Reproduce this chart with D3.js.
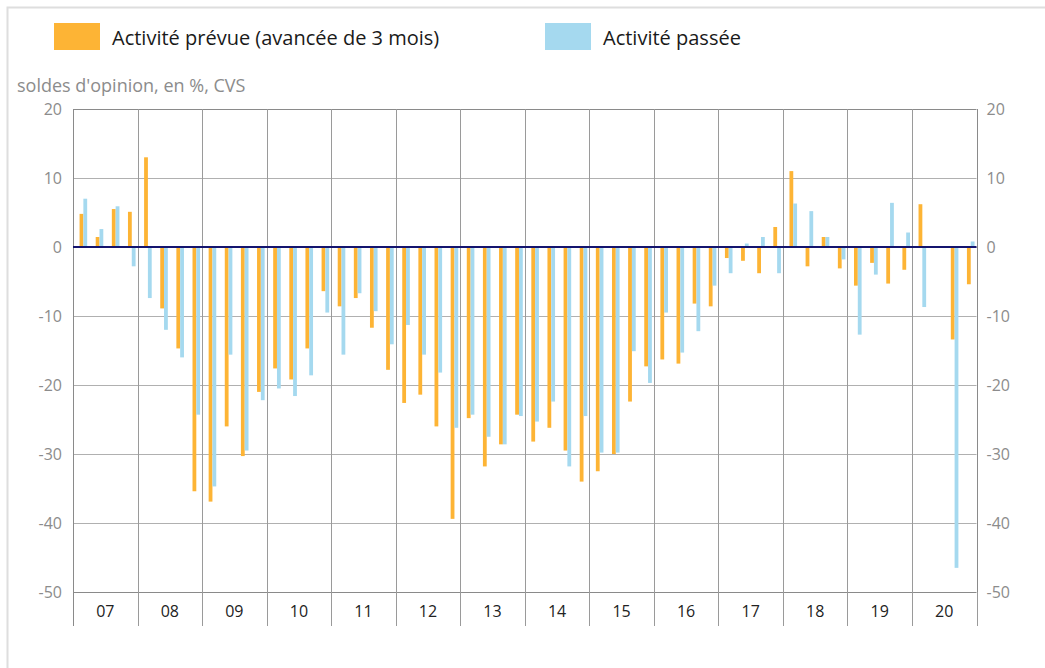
<!DOCTYPE html>
<html>
<head>
<meta charset="utf-8">
<script src="https://cdn.jsdelivr.net/npm/d3@7"></script>
<style>
html,body{margin:0;padding:0;background:#fff;}
svg{display:block;font-family:"Open Sans","Noto Sans",sans-serif;}
</style>
</head>
<body>
<svg id="chart" width="1045" height="668"></svg>
<script>
const years = ["07","08","09","10","11","12","13","14","15","16","17","18","19","20"];
const quarters = [1,2,3,4];
const yTicks = [20,10,0,-10,-20,-30,-40,-50];
const seriesNames = ["Activité prévue (avancée de 3 mois)", "Activité passée"];
const seriesColors = ["#fdb435", "#a5d9ef"];
// Activité prévue (avancée de 3 mois), quarterly, 2007 Q1 .. 2020 Q4
const prevue = [
  4.8, 1.45, 5.5, 5.1,
  13.0, -8.9, -14.7, -35.4,
  -36.9, -26.0, -30.3, -21.0,
  -17.6, -19.2, -14.7, -6.4,
  -8.6, -7.4, -11.7, -17.8,
  -22.6, -21.4, -26.0, -39.4,
  -24.8, -31.8, -28.6, -24.3,
  -28.2, -26.2, -29.5, -34.0,
  -32.5, -30.0, -22.4, -17.3,
  -16.3, -16.9, -8.2, -8.6,
  -1.6, -2.0, -3.8, 2.9,
  11.0, -2.8, 1.45, -3.1,
  -5.6, -2.3, -5.3, -3.3,
  6.2, null, -13.4, -5.4
];
// Activité passée
const passee = [
  7.0, 2.6, 5.9, -2.8,
  -7.4, -12.0, -16.0, -24.3,
  -34.7, -15.6, -29.5, -22.2,
  -20.5, -21.6, -18.6, -9.5,
  -15.6, -6.7, -9.3, -14.1,
  -11.3, -15.6, -18.2, -26.2,
  -24.3, -27.5, -28.6, -24.5,
  -25.3, -22.4, -31.8, -24.5,
  -29.8, -29.8, -15.1, -19.7,
  -9.5, -15.3, -12.2, -5.6,
  -3.8, 0.5, 1.45, -3.8,
  6.3, 5.2, 1.45, -1.8,
  -12.7, -4.0, 6.4, 2.1,
  -8.7, null, -46.5, 0.8
];

const svg = d3.select("#chart");
const L = 73, R = 976.5, T = 109, B = 592, axisBottom = 626;

const periods = [];
years.forEach(y => quarters.forEach(q => periods.push(y + "-" + q)));

const x = d3.scaleBand().domain(periods).range([L, R]).padding(0);
const xYear = d3.scaleBand().domain(years).range([L, R]).padding(0);
const y = d3.scaleLinear().domain([-50, 20]).range([B, T]);
const fmt = d => String(d);

// outer frame
svg.append("rect").attr("x", 7.5).attr("y", 7.5).attr("width", 1100).attr("height", 700)
  .attr("fill", "none").attr("stroke", "#dedede").attr("stroke-width", 2);

// horizontal gridlines
const gridY = svg.append("g").attr("transform", `translate(${L},0)`)
  .call(d3.axisLeft(y).tickValues(yTicks).tickSize(-(R - L)).tickFormat(""));
gridY.select(".domain").remove();
gridY.selectAll("line").attr("stroke", d => (d === 20 || d === -50) ? "#8a8a8a" : "#b0b0b0").attr("stroke-width", 1);

// vertical year separators (extend into label band)
const sepPos = years.map(yy => xYear(yy)).concat([R]);
svg.append("g").selectAll("line").data(sepPos).join("line")
  .attr("x1", d => Math.round(d) + 0.5).attr("x2", d => Math.round(d) + 0.5)
  .attr("y1", T).attr("y2", axisBottom)
  .attr("stroke", "#9a9a9a").attr("stroke-width", 1);

// left axis line
svg.append("line").attr("x1", L + 0.5).attr("x2", L + 0.5).attr("y1", T).attr("y2", axisBottom)
  .attr("stroke", "#8a8a8a");
// right axis line
svg.append("line").attr("x1", Math.round(R) + 0.5).attr("x2", Math.round(R) + 0.5).attr("y1", T).attr("y2", B)
  .attr("stroke", "#8a8a8a");

// y tick labels
const leftAx = svg.append("g").attr("transform", `translate(${L},0)`)
  .call(d3.axisLeft(y).tickValues(yTicks).tickFormat(fmt).tickSize(0).tickPadding(11));
leftAx.select(".domain").remove();
leftAx.selectAll("text").attr("fill", "#8c8c8c").style("font-size", "16px").style("font-family", "'Open Sans'");
const rightAx = svg.append("g").attr("transform", `translate(${R},0)`)
  .call(d3.axisRight(y).tickValues(yTicks).tickFormat(fmt).tickSize(0).tickPadding(10));
rightAx.select(".domain").remove();
rightAx.selectAll("text").attr("fill", "#8c8c8c").style("font-size", "16px").style("font-family", "'Open Sans'");

// x year labels
const xAx = svg.append("g").attr("transform", `translate(0,${B})`)
  .call(d3.axisBottom(xYear).tickSize(0).tickPadding(14));
xAx.select(".domain").remove();
xAx.selectAll("text").attr("fill", "#222").style("font-size", "16px").style("font-family", "'Open Sans'");

// bars
const bw = 3.8, off = 2.3;
const data = periods.map((p, i) => ({p, a: prevue[i], b: passee[i]}));
svg.append("g").selectAll("rect").data(data.filter(d => d.a !== null)).join("rect")
  .attr("x", d => x(d.p) + x.bandwidth() / 2 + off - bw)
  .attr("width", bw)
  .attr("y", d => y(Math.max(0, d.a)))
  .attr("height", d => Math.abs(y(d.a) - y(0)))
  .attr("fill", seriesColors[0]);
svg.append("g").selectAll("rect").data(data.filter(d => d.b !== null)).join("rect")
  .attr("x", d => x(d.p) + x.bandwidth() / 2 + off)
  .attr("width", bw)
  .attr("y", d => y(Math.max(0, d.b)))
  .attr("height", d => Math.abs(y(d.b) - y(0)))
  .attr("fill", seriesColors[1]);

// zero line
svg.append("line").attr("x1", L).attr("x2", R).attr("y1", y(0)).attr("y2", y(0))
  .attr("stroke", "#14146e").attr("stroke-width", 2);

// y axis title
svg.append("text").attr("x", 17).attr("y", 92).attr("fill", "#8c8c8c")
  .style("font-size", "18px").text("soldes d'opinion, en %, CVS");

// legend
const legendX = [54, 545];
seriesNames.forEach((n, i) => {
  svg.append("rect").attr("x", legendX[i]).attr("y", 23).attr("width", 46).attr("height", 27)
    .attr("fill", seriesColors[i]);
  svg.append("text").attr("x", legendX[i] + 58).attr("y", 44.5).attr("fill", "#1a1a1a")
    .style("font-size", "20px").text(n);
});
</script>
</body>
</html>
